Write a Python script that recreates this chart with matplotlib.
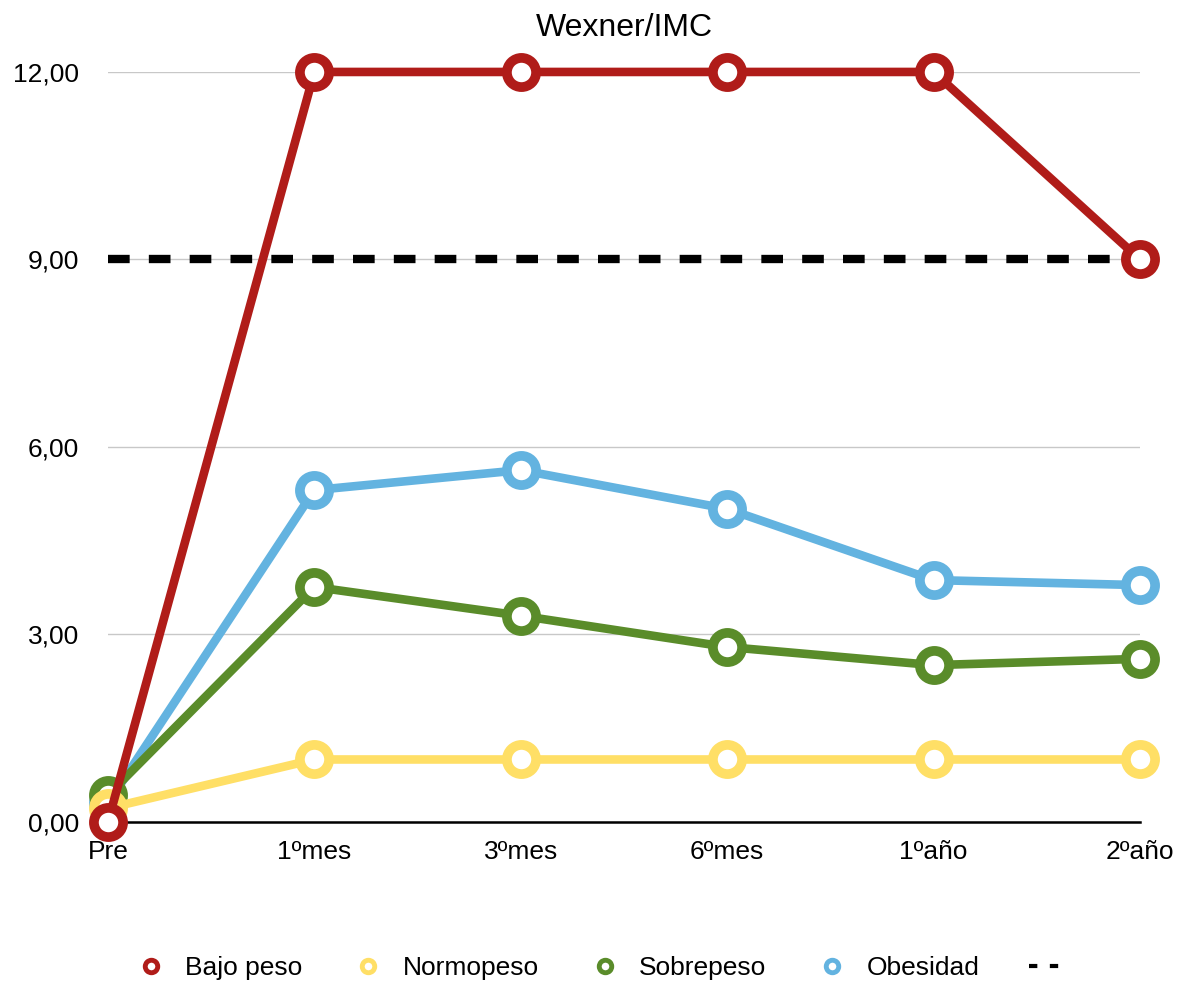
import matplotlib.pyplot as plt
from matplotlib.lines import Line2D
from matplotlib.ticker import FuncFormatter

plt.rcParams['font.family'] = ['Liberation Sans', 'DejaVu Sans']

categories = ["Pre", "1ºmes", "3ºmes", "6ºmes", "1ºaño", "2ºaño"]
bajo_peso = [0.0, 12.0, 12.0, 12.0, 12.0, 9.0]
normopeso = [0.22, 1.0, 1.0, 1.0, 1.0, 1.0]
sobrepeso = [0.43, 3.76, 3.3, 2.8, 2.51, 2.61]
obesidad = [0.3, 5.31, 5.63, 5.01, 3.87, 3.79]
umbral = 9.0

series = [
    ("Obesidad", obesidad, "#63B3E0"),
    ("Sobrepeso", sobrepeso, "#5A8C2A"),
    ("Normopeso", normopeso, "#FFDF66"),
    ("Bajo peso", bajo_peso, "#B01C19"),
]

fig = plt.figure(figsize=(11.84, 9.83), dpi=100)
ax = fig.add_axes([0.0912, 0.1638, 0.8716, 0.763])

x = list(range(len(categories)))
ax.plot([x[0], x[-1]], [umbral, umbral], color="black", lw=6, ls=(0, (2.6, 2.3)),
        zorder=2, solid_capstyle="butt", dash_capstyle="butt")

for i, (name, vals, col) in enumerate(series):
    ax.plot(x, vals, color=col, lw=6.2, marker="o", ms=21, mfc="white",
            mec=col, mew=7, clip_on=False, zorder=3 + i)

ax.set_xlim(0, 5)
ax.set_ylim(0, 12)
ax.set_yticks([0, 3, 6, 9, 12])
ax.yaxis.set_major_formatter(FuncFormatter(lambda v, p: f"{v:.2f}".replace(".", ",")))
ax.set_xticks(x)
ax.set_xticklabels(categories)
ax.tick_params(axis="both", length=0, labelsize=19)
ax.tick_params(axis="y", pad=21)
ax.tick_params(axis="x", pad=13)
ax.grid(axis="y", color="#C8C8C8", lw=1)
ax.set_axisbelow(True)
for s in ["top", "right", "left"]:
    ax.spines[s].set_visible(False)
ax.spines["bottom"].set_linewidth(1.8)
ax.spines["bottom"].set_zorder(2.5)

ax.set_title("Wexner/IMC", fontsize=23, pad=26)

handles = []
for name, vals, col in reversed(series):
    handles.append(Line2D([], [], color=col, lw=0, marker="o", ms=9, mfc="white",
                          mec=col, mew=3.5, label=name))
handles.append(Line2D([], [], color="black", lw=3, ls=(0, (2, 3)), label=" "))
fig.legend(handles=handles, loc="lower center", ncol=5, frameon=False,
           fontsize=19, bbox_to_anchor=(0.516, -0.021), columnspacing=1.9,
           handlelength=1.2, handletextpad=0.7)

fig.savefig("out.png", dpi=100)
